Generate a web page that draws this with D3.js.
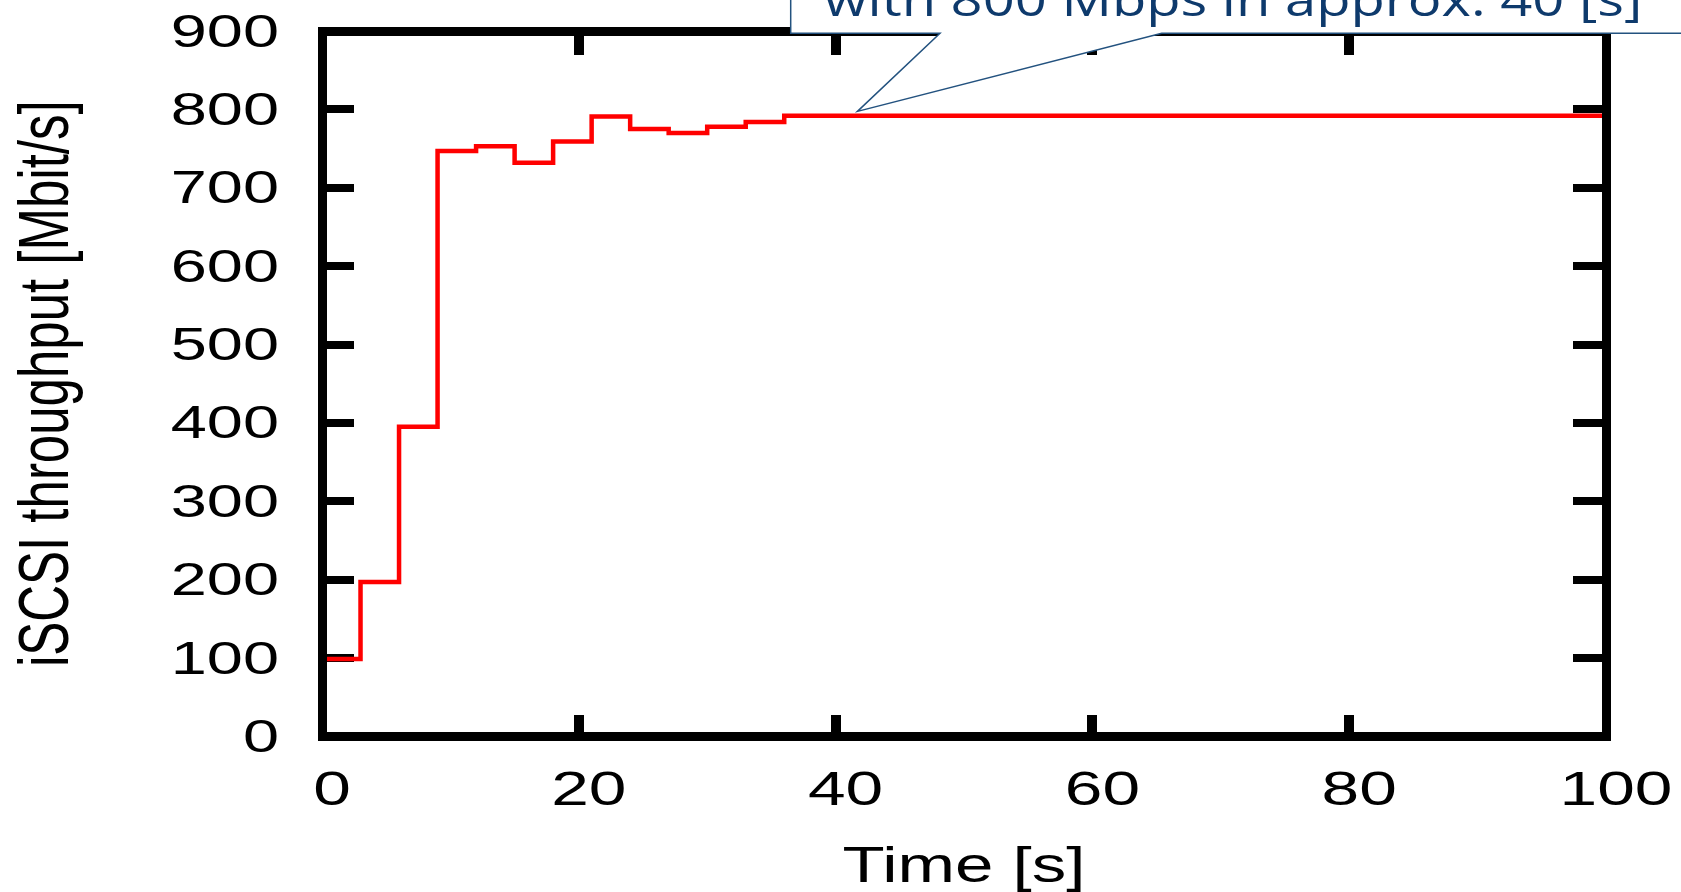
<!DOCTYPE html>
<meta charset="utf-8">
<head>
    <title>iSCSI throughput over time</title>
</head>

<style>
  body {
    margin: 0;
    background: #fff;
  }

  .tickLabel,
  .axisLabel {
    font-family: "Liberation Sans", Arial, sans-serif;
    fill: #000;
  }

  .frame {
    fill: none;
    stroke: #000;
    stroke-width: 9px;
    shape-rendering: crispEdges;
  }

  .tick {
    stroke: #000;
    shape-rendering: crispEdges;
  }

  .series {
    fill: none;
    stroke: #ff0000;
    stroke-width: 4.5px;
  }

  .callout {
    fill: #fff;
    stroke: #23527f;
    stroke-width: 1.5px;
  }

  .calloutText {
    font-family: "Open Sans", sans-serif;
    fill: #0e3a6c;
  }
</style>
<body>
<script src="https://cdn.jsdelivr.net/npm/d3@7"></script>

<script>
// step series, one sample every 3 s, last value held to 100 s
var times      = [0, 3, 6, 9, 12, 15, 18, 21, 24, 27, 30, 33, 36, 100];
var throughput = [99, 197, 395, 747, 753, 732, 759, 791, 775, 770, 778, 784, 792, 792];

var xTickLabels = [0, 20, 40, 60, 80, 100];
var yTickLabels = [0, 100, 200, 300, 400, 500, 600, 700, 800, 900];

var calloutText = "with 800 Mbps in approx. 40 [s]";
var calloutTip = [41.7, 800]; // data coords the pointer aims at

var width = 1681,
    height = 892,
    stretch = 1.38; // the original figure is stretched sideways

var margin = {top: 31, right: 75, bottom: 155.5, left: 322};

var x = d3.scaleLinear()
    .domain([0, 100])
    .range([margin.left, width - margin.right]);

var y = d3.scaleLinear()
    .domain([0, 900])
    .range([height - margin.bottom, margin.top]);

var svg = d3.select("body").append("svg")
    .attr("width", width)
    .attr("height", height);

svg.append("rect")
    .attr("width", width)
    .attr("height", height)
    .attr("fill", "#fff");

var data = times.map(function(t, i) { return {t: t, v: throughput[i]}; });

// inner ticks on all four sides
var yInner = yTickLabels.slice(1, -1),
    xInner = xTickLabels.slice(1, -1);

svg.selectAll(".ytickL")
    .data(yInner)
  .enter().append("line")
    .attr("class", "tick")
    .attr("stroke-width", 8)
    .attr("x1", x(0)).attr("x2", x(0) + 32)
    .attr("y1", y).attr("y2", y);

svg.selectAll(".ytickR")
    .data(yInner)
  .enter().append("line")
    .attr("class", "tick")
    .attr("stroke-width", 8)
    .attr("x1", x(100)).attr("x2", x(100) - 33)
    .attr("y1", y).attr("y2", y);

svg.selectAll(".xtickB")
    .data(xInner)
  .enter().append("line")
    .attr("class", "tick")
    .attr("stroke-width", 10)
    .attr("x1", x).attr("x2", x)
    .attr("y1", y(0)).attr("y2", y(0) - 22);

svg.selectAll(".xtickT")
    .data(xInner)
  .enter().append("line")
    .attr("class", "tick")
    .attr("stroke-width", 10)
    .attr("x1", x).attr("x2", x)
    .attr("y1", y(900)).attr("y2", y(900) + 24);

// the step line
var line = d3.line()
    .curve(d3.curveStepAfter)
    .x(function(d) { return x(d.t); })
    .y(function(d) { return y(d.v); });

svg.append("path")
    .datum(data)
    .attr("class", "series")
    .attr("d", line);

// frame
svg.append("rect")
    .attr("class", "frame")
    .attr("x", x(0))
    .attr("y", y(900))
    .attr("width", x(100) - x(0))
    .attr("height", y(0) - y(900));

// tick labels
svg.selectAll(".yLabel")
    .data(yTickLabels)
  .enter().append("text")
    .attr("class", "tickLabel")
    .attr("text-anchor", "end")
    .attr("font-size", 47)
    .attr("dy", "0.33em")
    .attr("transform", function(d) {
      return "translate(279," + y(d) + ") scale(" + stretch + ",1)";
    })
    .text(function(d) { return d; });

svg.selectAll(".xLabel")
    .data(xTickLabels)
  .enter().append("text")
    .attr("class", "tickLabel")
    .attr("text-anchor", "middle")
    .attr("font-size", 49)
    .attr("transform", function(d) {
      return "translate(" + (x(d) + 10) + "," + (y(0) + 68.5) + ") scale(" + stretch + ",1)";
    })
    .text(function(d) { return d; });

// axis titles
svg.append("text")
    .attr("class", "axisLabel")
    .attr("text-anchor", "middle")
    .attr("font-size", 50)
    .attr("transform", "translate(" + (x(0) + x(100)) / 2 + ",882) scale(" + stretch + ",1)")
    .text("Time [s]");

svg.append("text")
    .attr("class", "axisLabel")
    .attr("text-anchor", "middle")
    .attr("font-size", 51)
    .attr("transform", "translate(68," + (y(0) + y(900)) / 2 + ") scale(" + stretch + ",1) rotate(-90)")
    .text("iSCSI throughput [Mbit/s]");

// callout box, cut off by the top of the picture
var boxLeft = 790.7, boxBottom = 33.3;
var tipX = x(calloutTip[0]), tipY = y(calloutTip[1]) + 2;

svg.append("path")
    .attr("class", "callout")
    .attr("d", "M" + boxLeft + ",-10" +
               "L" + boxLeft + "," + boxBottom +
               "L940," + boxBottom +
               "L" + tipX + "," + tipY +
               "L1161.7," + boxBottom +
               "L" + (width + 10) + "," + boxBottom +
               "L" + (width + 10) + ",-10Z");

svg.append("text")
    .attr("class", "calloutText")
    .attr("font-size", 46)
    .attr("transform", "translate(824,15.5) scale(1.22,1)")
    .text(calloutText);
</script>
</body>
